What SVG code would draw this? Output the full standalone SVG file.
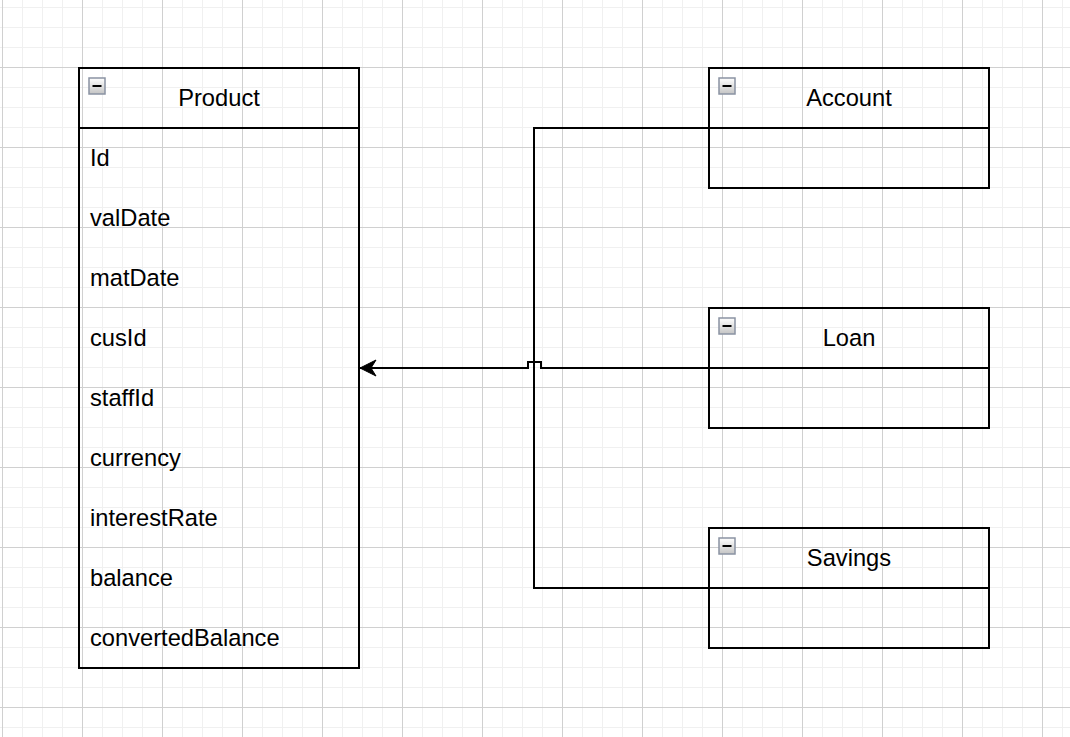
<svg xmlns="http://www.w3.org/2000/svg" width="1070" height="737" viewBox="0 0 1070 737">
  <defs>
    <pattern id="grid" patternUnits="userSpaceOnUse" x="2" y="-13" width="80" height="80">
      <path d="M20.5 0V80M40.5 0V80M60.5 0V80M0 20.5H80M0 40.5H80M0 60.5H80" stroke="#f0f0f0" stroke-width="1" fill="none"/>
      <path d="M0.5 0V80M0 0.5H80" stroke="#d0d0d0" stroke-width="1" fill="none"/>
    </pattern>
    <linearGradient id="iconFill" x1="0" y1="0" x2="0" y2="1">
      <stop offset="0" stop-color="#ffffff"/>
      <stop offset="1" stop-color="#c4c4c4"/>
    </linearGradient>
    <marker id="arrow" markerUnits="userSpaceOnUse" markerWidth="20" markerHeight="20" viewBox="0 0 20 20" refX="19" refY="10" orient="auto">
      <path d="M19 10L3 2L8 10L3 18Z" fill="#000" stroke="#000" stroke-width="1"/>
    </marker>
    <g id="icon">
      <rect x="0" y="0" width="16" height="16" fill="url(#iconFill)" stroke="#8a93a3" stroke-width="1.5"/>
      <path d="M3.5 8H12.5" stroke="#000" stroke-width="2"/>
    </g>
  </defs>
  <style>
    .box { fill: none; stroke: #000; stroke-width: 2; }
    .title { font-family: "Liberation Sans", Arial, sans-serif; font-size: 23.7px; fill: #000; text-anchor: middle; dominant-baseline: central; }
    .attr { font-family: "Liberation Sans", Arial, sans-serif; font-size: 23.7px; fill: #000; dominant-baseline: central; }
    .edge { fill: none; stroke: #000; stroke-width: 2; }
  </style>
  <rect x="0" y="0" width="1070" height="737" fill="#ffffff"/>
  <rect x="0" y="0" width="1070" height="737" fill="url(#grid)"/>

  <g id="connectors">
    <path class="edge" d="M709 128H534V588H709"/>
    <path class="edge" d="M709 368H541V362H528V368H360" marker-end="url(#arrow)"/>
  </g>

  <g id="product">
    <rect class="box" x="79" y="68" width="280" height="600"/>
    <path class="box" d="M79 128H359"/>
    <use href="#icon" x="89" y="78"/>
    <text class="title" x="219" y="98">Product</text>
    <text class="attr" x="90" y="158">Id</text>
    <text class="attr" x="90" y="218">valDate</text>
    <text class="attr" x="90" y="278">matDate</text>
    <text class="attr" x="90" y="338">cusId</text>
    <text class="attr" x="90" y="398">staffId</text>
    <text class="attr" x="90" y="458">currency</text>
    <text class="attr" x="90" y="518">interestRate</text>
    <text class="attr" x="90" y="578">balance</text>
    <text class="attr" x="90" y="638">convertedBalance</text>
  </g>

  <g id="account">
    <rect class="box" x="709" y="68" width="280" height="120"/>
    <path class="box" d="M709 128H989"/>
    <use href="#icon" x="719" y="78"/>
    <text class="title" x="849" y="98">Account</text>
  </g>

  <g id="loan">
    <rect class="box" x="709" y="308" width="280" height="120"/>
    <path class="box" d="M709 368H989"/>
    <use href="#icon" x="719" y="318"/>
    <text class="title" x="849" y="338">Loan</text>
  </g>

  <g id="savings">
    <rect class="box" x="709" y="528" width="280" height="120"/>
    <path class="box" d="M709 588H989"/>
    <use href="#icon" x="719" y="538"/>
    <text class="title" x="849" y="558">Savings</text>
  </g>
</svg>
